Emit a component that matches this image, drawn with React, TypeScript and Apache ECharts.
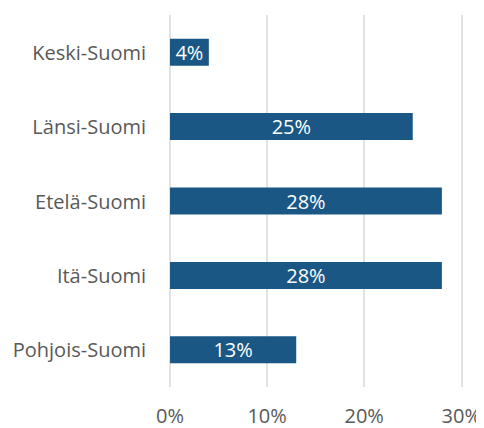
import React, { useEffect, useRef } from "react";
import * as echarts from "echarts";

const categories = ["Pohjois-Suomi", "Itä-Suomi", "Etelä-Suomi", "Länsi-Suomi", "Keski-Suomi"];
const values = [13, 28, 28, 25, 4];
const xTicks = [0, 10, 20, 30];

export default function App() {
  const ref = useRef<HTMLDivElement>(null);
  useEffect(() => {
    if (!ref.current) return;
    const chart = echarts.init(ref.current, null, { renderer: "svg" });
    const font = "'Open Sans', 'Noto Sans', sans-serif";
    chart.setOption({
      animation: false,
      grid: { left: 170, right: 22, top: 15, bottom: 41, containLabel: false },
      xAxis: {
        type: "value",
        min: xTicks[0],
        max: xTicks[xTicks.length - 1],
        interval: 10,
        axisLine: { show: false },
        axisTick: { show: false },
        splitLine: { lineStyle: { color: "#d9d9d9", width: 1.5 } },
        axisLabel: { formatter: "{value}%", color: "#595959", fontSize: 20, fontFamily: font, margin: 18 },
      },
      yAxis: {
        type: "category",
        data: categories,
        axisLine: { show: false },
        axisTick: { show: false },
        axisLabel: { color: "#595959", fontSize: 20, fontFamily: font, margin: 24 },
      },
      series: [
        {
          type: "bar",
          data: values,
          barWidth: 27,
          itemStyle: { color: "#1a5785" },
          label: {
            show: true,
            position: "inside",
            formatter: "{c}%",
            color: "#ffffff",
            fontSize: 20,
            fontFamily: font,
          },
        },
      ],
    });
    return () => chart.dispose();
  }, []);
  return <div ref={ref} style={{ width: 484, height: 428, marginLeft: -8, marginTop: -8 }} />;
}
